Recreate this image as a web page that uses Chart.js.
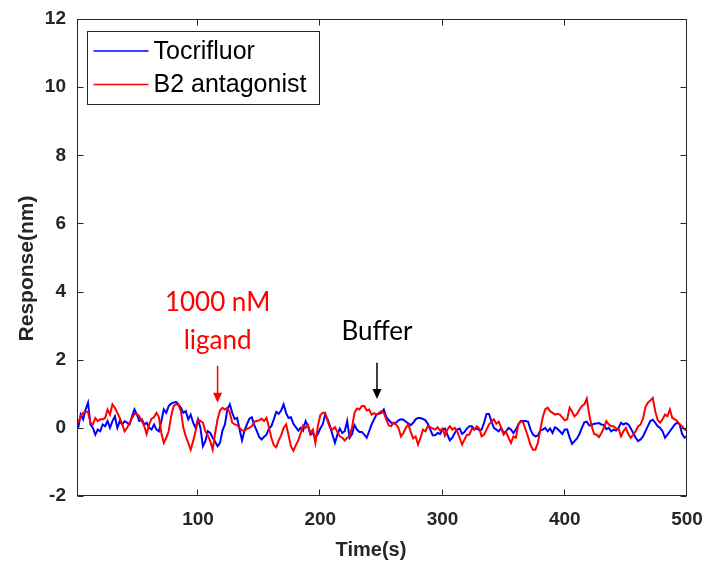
<!DOCTYPE html>
<html><head><meta charset="utf-8">
<script src="https://cdn.jsdelivr.net/npm/chart.js@4.4.1/dist/chart.umd.min.js"></script>
<style>html,body{margin:0;padding:0;background:#fff;}#wrap{width:706px;height:565px;}</style>
</head><body><div id="wrap"><canvas id="c" width="706" height="565"></canvas></div>
<script>
const time = [2,4,6,8,10,12,14,16,18,20,22,24,26,28,30,32,34,36,38,40,42,44,46,48,50,52,54,56,58,60,62,64,66,68,70,72,74,76,78,80,82,84,86,88,90,92,94,96,98,100,
102,104,106,108,110,112,114,116,118,120,122,124,126,128,130,132,134,136,138,140,142,144,146,148,150,152,154,156,158,160,162,164,166,168,170,172,174,176,178,180,182,184,186,188,190,192,194,196,198,200,
202,204,206,208,210,212,214,216,218,220,222,224,226,228,230,232,234,236,238,240,242,244,246,248,250,252,254,256,258,260,262,264,266,268,270,272,274,276,278,280,282,284,286,288,290,292,294,296,298,300,
302,304,306,308,310,312,314,316,318,320,322,324,326,328,330,332,334,336,338,340,342,344,346,348,350,352,354,356,358,360,362,364,366,368,370,372,374,376,378,380,382,384,386,388,390,392,394,396,398,400,
402,404,406,408,410,412,414,416,418,420,422,424,426,428,430,432,434,436,438,440,442,444,446,448,450,452,454,456,458,460,462,464,466,468,470,472,474,476,478,480,482,484,486,488,490,492,494,496,498,500];

const tocrifluor = [0.0,0.39,0.25,0.54,0.74,0.10,0.0,-0.20,-0.05,-0.10,
0.10,0.05,0.20,0.0,0.20,0.34,0.0,0.20,0.10,0.20,
0.15,0.10,0.34,0.54,0.39,0.20,0.25,0.10,0.15,0.0,
-0.05,0.10,-0.05,-0.10,0.20,0.54,0.44,0.64,0.71,0.74,
0.76,0.69,0.59,0.44,0.49,0.25,0.39,0.15,0.0,0.25,
0.0,-0.54,-0.39,-0.10,-0.15,-0.29,-0.41,-0.54,-0.44,-0.08,
0.10,0.54,0.69,0.44,0.26,0.29,-0.05,-0.37,-0.08,0.10,
0.27,0.31,0.08,-0.08,-0.27,-0.34,-0.26,-0.20,-0.02,0.05,
0.25,0.47,0.41,0.51,0.69,0.44,0.29,0.31,0.12,0.02,
-0.08,0.0,-0.08,0.20,0.05,-0.20,-0.15,-0.29,-0.18,-0.02,
0.10,0.39,0.25,0.05,-0.20,-0.44,-0.20,-0.02,-0.15,-0.10,
0.20,-0.29,-0.18,0.08,-0.05,-0.12,-0.12,-0.20,-0.29,-0.10,
0.10,0.25,0.39,0.41,0.44,0.54,0.32,0.23,0.15,0.12,
0.15,0.22,0.25,0.24,0.18,0.13,0.08,0.15,0.25,0.29,
0.29,0.26,0.22,0.12,-0.05,-0.22,-0.22,-0.15,-0.18,-0.05,
-0.02,-0.20,-0.37,-0.29,-0.15,-0.05,-0.02,-0.18,-0.12,-0.02,
0.05,0.05,-0.05,-0.02,-0.07,-0.05,0.15,0.41,0.41,0.20,
0.0,-0.05,-0.10,0.0,-0.15,-0.10,0.0,-0.05,-0.15,-0.05,
0.10,0.20,0.20,0.20,0.18,-0.05,-0.20,-0.25,-0.22,-0.08,
-0.05,0.0,-0.10,-0.02,-0.15,0.02,-0.03,-0.10,-0.18,-0.05,
-0.05,-0.29,-0.47,-0.39,-0.31,-0.18,0.0,0.16,0.18,0.07,
0.08,0.12,0.13,0.14,0.10,0.08,-0.04,0.0,-0.10,-0.05,
-0.08,0.0,0.15,0.10,0.14,0.10,-0.02,-0.15,-0.29,-0.39,
-0.34,-0.25,-0.10,0.05,0.20,0.24,0.15,0.05,0.0,-0.10,
-0.29,-0.20,-0.10,0.0,0.10,0.15,0.10,-0.18,-0.29,-0.25];

const b2Antagonist = [0.15,0.34,0.44,0.47,0.47,0.15,0.10,0.29,0.20,0.25,
0.25,0.29,0.54,0.39,0.69,0.59,0.44,0.29,0.10,-0.10,
0.0,0.15,0.29,0.41,0.41,0.34,0.20,0.05,-0.18,0.10,
0.27,0.31,0.44,0.31,-0.15,-0.44,-0.29,-0.10,0.34,0.64,
0.69,0.67,0.49,0.0,-0.25,-0.44,-0.64,-0.39,-0.10,0.25,
0.20,0.15,-0.10,-0.22,-0.39,-0.64,-0.15,0.25,0.51,0.59,
0.54,0.59,0.44,0.15,0.10,0.08,0.0,-0.08,-0.08,-0.03,
0.0,0.05,0.18,0.20,0.22,0.27,0.20,0.29,0.02,-0.29,
-0.51,-0.57,-0.37,-0.22,0.0,0.10,-0.20,-0.54,-0.67,-0.51,
-0.37,-0.15,0.08,0.0,0.08,-0.15,-0.05,-0.44,0.05,0.37,
0.44,0.44,0.20,0.0,-0.05,0.02,-0.12,-0.25,-0.29,-0.37,
-0.29,-0.25,0.02,0.44,0.57,0.54,0.64,0.64,0.51,0.54,
0.39,0.43,0.39,0.44,0.49,0.44,0.25,0.07,0.05,0.15,
0.10,0.0,-0.25,-0.15,0.0,0.10,-0.12,-0.31,-0.25,-0.49,
-0.29,-0.05,-0.10,0.05,0.02,-0.02,-0.05,0.02,-0.08,-0.02,
-0.23,-0.05,0.05,-0.05,0.0,-0.10,-0.29,-0.49,-0.34,-0.20,
-0.20,-0.02,-0.05,0.05,-0.02,-0.25,-0.20,-0.05,0.10,0.18,
0.25,0.12,0.18,0.0,-0.20,-0.12,-0.29,-0.44,-0.25,-0.29,
0.10,0.20,0.15,-0.05,-0.27,-0.51,-0.64,-0.64,-0.44,-0.05,
0.31,0.54,0.59,0.49,0.44,0.39,0.41,0.39,0.31,0.22,
0.25,0.59,0.47,0.34,0.41,0.53,0.64,0.69,0.86,0.39,
0.05,-0.18,-0.20,-0.27,-0.15,0.0,0.20,0.10,0.05,0.05,
-0.02,-0.02,-0.25,-0.10,0.0,-0.18,-0.29,-0.20,-0.10,0.04,
0.10,0.27,0.61,0.74,0.80,0.88,0.49,0.23,0.15,0.25,
0.39,0.34,0.54,0.29,0.25,0.20,0.10,0.05,-0.05,-0.08];

const seriesLabels = ['Tocrifluor', 'B2 antagonist'];
const xTicks = [100, 200, 300, 400, 500];
const yTicks = [-2, 0, 2, 4, 6, 8, 10, 12];
const axisTitles = ['Time(s)', 'Response(nm)'];
const eventTimes = [116, 246.4];
const eventTexts = [['1000 nM', 'ligand'], ['Buffer']];

// ---- styling / placement (not data) ----
const AXIS_COLOR = '#262626';
const eventStyle = [
  {color: '#ff0000', textY: [3.42, 2.32], arrowTop: 1.82, arrowTip: 0.74},
  {color: '#000000', textY: [2.59], arrowTop: 1.91, arrowTip: 0.85}
];

const boxPlugin = {
  id: 'box',
  afterDatasetsDraw(chart) {
    const {ctx, chartArea: a, scales: {x, y}} = chart;
    ctx.save();
    ctx.strokeStyle = AXIS_COLOR;
    ctx.lineWidth = 1;
    const L = Math.round(a.left) + 0.5, R = Math.round(a.right) - 0.5;
    const T = Math.round(a.top) + 0.5, B = Math.round(a.bottom) - 0.5;
    ctx.strokeRect(L, T, R - L, B - T);
    const len = 6;
    ctx.beginPath();
    xTicks.forEach(v => {
      const px = Math.round(x.getPixelForValue(v)) - 0.5;
      ctx.moveTo(px, B); ctx.lineTo(px, B - len);
      ctx.moveTo(px, T); ctx.lineTo(px, T + len);
    });
    yTicks.forEach(v => {
      const py = Math.round(y.getPixelForValue(v)) + 0.5;
      ctx.moveTo(L, py); ctx.lineTo(L + len, py);
      ctx.moveTo(R, py); ctx.lineTo(R - len, py);
    });
    ctx.stroke();
    // axis titles
    ctx.fillStyle = AXIS_COLOR;
    ctx.font = 'bold 20px "Liberation Sans", Arial, sans-serif';
    ctx.textAlign = 'center';
    ctx.textBaseline = 'middle';
    ctx.fillText(axisTitles[0], (a.left + a.right) / 2 - 11, a.bottom + 54);
    ctx.save();
    ctx.translate(27, (a.top + a.bottom) / 2 + 11);
    ctx.rotate(-Math.PI / 2);
    ctx.font = 'bold 21px "Liberation Sans", Arial, sans-serif';
    ctx.fillText(axisTitles[1], 0, 0);
    ctx.restore();
    ctx.restore();
  }
};

const legendPlugin = {
  id: 'boxLegend',
  afterDraw(chart) {
    const {ctx, chartArea: a} = chart;
    const bx = Math.round(a.left) + 10.5, by = Math.round(a.top) + 12.5;
    const bw = 232, bh = 73;
    ctx.save();
    ctx.fillStyle = '#ffffff';
    ctx.fillRect(bx, by, bw, bh);
    ctx.strokeStyle = AXIS_COLOR;
    ctx.lineWidth = 1;
    ctx.strokeRect(bx, by, bw, bh);
    ctx.font = '25px "Liberation Sans", Arial, sans-serif';
    ctx.textBaseline = 'middle';
    ctx.textAlign = 'left';
    chart.data.datasets.forEach((ds, i) => {
      const ly = by + 19.5 + i * 33.5;
      ctx.strokeStyle = ds.borderColor;
      ctx.lineWidth = 1.5;
      ctx.beginPath();
      ctx.moveTo(bx + 6, ly); ctx.lineTo(bx + 61, ly);
      ctx.stroke();
      ctx.fillStyle = '#000000';
      ctx.fillText(ds.label, bx + 66, ly + 1);
    });
    ctx.restore();
  }
};

const eventPlugin = {
  id: 'events',
  afterDatasetsDraw(chart) {
    const {ctx, scales: {x, y}} = chart;
    ctx.save();
    eventTimes.forEach((t, i) => {
      const st = eventStyle[i];
      const px = x.getPixelForValue(t);
      ctx.fillStyle = st.color;
      ctx.strokeStyle = st.color;
      ctx.font = '26px Lato, "Open Sans", sans-serif';
      ctx.textAlign = 'center';
      ctx.textBaseline = 'alphabetic';
      eventTexts[i].forEach((txt, k) => {
        ctx.fillText(txt, px, y.getPixelForValue(st.textY[k]));
      });
      const top = y.getPixelForValue(st.arrowTop);
      const tip = y.getPixelForValue(st.arrowTip);
      const headH = 10, headW = 4.5;
      ctx.lineWidth = 1.5;
      ctx.beginPath();
      ctx.moveTo(px, top); ctx.lineTo(px, tip - headH + 1);
      ctx.stroke();
      ctx.beginPath();
      ctx.moveTo(px - headW, tip - headH);
      ctx.lineTo(px + headW, tip - headH);
      ctx.lineTo(px, tip);
      ctx.closePath();
      ctx.fill();
    });
    ctx.restore();
  }
};

const tickFont = {family: '"Liberation Sans", Arial, sans-serif', size: 19, weight: 'bold'};

new Chart(document.getElementById('c').getContext('2d'), {
  type: 'line',
  data: {
    datasets: [
      {label: seriesLabels[0], data: time.map((t, i) => ({x: t, y: tocrifluor[i]})),
       borderColor: '#0000ff', borderWidth: 2, pointRadius: 0, tension: 0, fill: false, order: 1},
      {label: seriesLabels[1], data: time.map((t, i) => ({x: t, y: b2Antagonist[i]})),
       borderColor: '#ff0000', borderWidth: 2, pointRadius: 0, tension: 0, fill: false, order: 0}
    ]
  },
  options: {
    responsive: false,
    animation: false,
    devicePixelRatio: 1,
    layout: {padding: {top: 19, right: 19, left: 0, bottom: 0}},
    plugins: {legend: {display: false}, tooltip: {enabled: false}},
    scales: {
      x: {
        type: 'linear', min: 1, max: 500,
        afterBuildTicks: s => { s.ticks = xTicks.map(v => ({value: v})); },
        afterFit: s => { s.height = 69; s.paddingLeft = 0; s.paddingRight = 0; },
        grid: {display: false, drawTicks: false},
        border: {display: false},
        ticks: {padding: 12, color: AXIS_COLOR, font: tickFont, maxRotation: 0, autoSkip: false},
        title: {display: false}
      },
      y: {
        type: 'linear', min: -2, max: 12,
        afterBuildTicks: s => { s.ticks = yTicks.map(v => ({value: v})); },
        afterFit: s => { s.width = 77; s.paddingTop = 0; s.paddingBottom = 0; },
        grid: {display: false, drawTicks: false},
        border: {display: false},
        ticks: {padding: 11, color: AXIS_COLOR, font: tickFont, autoSkip: false},
        title: {display: false}
      }
    }
  },
  plugins: [boxPlugin, eventPlugin, legendPlugin]
});
</script>
</body></html>
